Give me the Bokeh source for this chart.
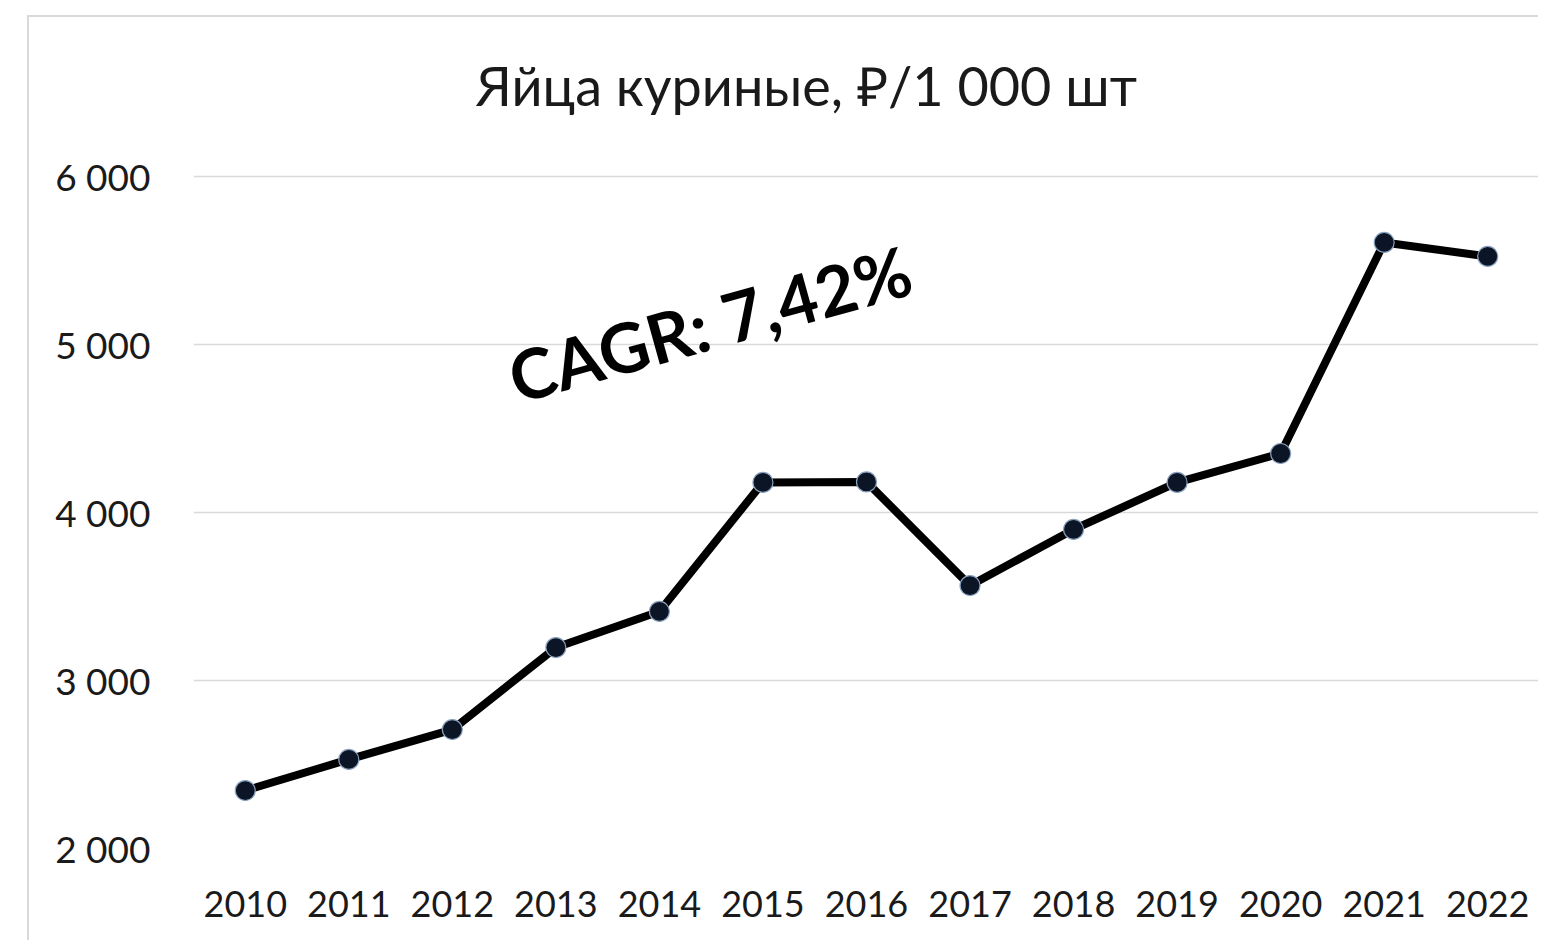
from bokeh.plotting import figure
from bokeh.models import Range1d, FixedTicker, Label
from bokeh.embed import file_html
from bokeh.resources import INLINE

# ---- data ----
years = [2010, 2011, 2012, 2013, 2014, 2015, 2016, 2017, 2018, 2019, 2020, 2021, 2022]
prices = [2345, 2530, 2708, 3196, 3411, 4179, 4182, 3565, 3899, 4179, 4351, 5607, 5524]
y_ticks = [2000, 3000, 4000, 5000, 6000]
y_tick_labels = ["2 000", "3 000", "4 000", "5 000", "6 000"]
title_text = "Яйца куриные, ₽/1 000 шт"
cagr_text = "CAGR: 7,42%"

FONT = "Lato"

p = figure(width=1511, height=925, output_backend="svg", toolbar_location=None,
           x_range=Range1d(2009.5, 2022.5), y_range=Range1d(2000, 6946),
           min_border_left=164, min_border_right=1, min_border_top=0, min_border_bottom=94)
p.margin = (15, 0, 0, 27)
p.styles = {"border-left": "2px solid #d9d9d9", "border-top": "2px solid #d9d9d9"}

p.background_fill_color = "white"
p.border_fill_color = "white"
p.outline_line_color = None

# axes
p.xaxis.ticker = FixedTicker(ticks=years)
p.yaxis.ticker = FixedTicker(ticks=y_ticks)
p.yaxis.major_label_overrides = {t: l for t, l in zip(y_ticks, y_tick_labels)}
for ax in (p.xaxis[0], p.yaxis[0]):
    ax.axis_line_color = None
    ax.major_tick_line_color = None
    ax.minor_tick_line_color = None
    ax.major_label_text_font = FONT
    ax.major_label_text_font_size = "37px"
    ax.major_label_text_color = "#1a1a1a"
p.xaxis.major_label_text_font_size = "36px"
p.xaxis.major_label_standoff = 36
p.yaxis.major_label_standoff = 37

p.xgrid.grid_line_color = None
p.ygrid.grid_line_color = "#d9d9d9"
p.ygrid.grid_line_width = 1.5

# series
p.line(years, prices, line_color="black", line_width=8, line_join="round")
p.scatter(years, prices, size=20, fill_color="#0c1526", line_color="#8aa2bf", line_width=1.2)

# title
p.add_layout(Label(x=2015.42, y=6542, text=title_text, text_align="center",
                   text_baseline="middle", text_font=FONT, text_font_size="54px",
                   text_color="#1a1a1a"))

# CAGR annotation
p.add_layout(Label(x=2012.56, y=4798, text=cagr_text, angle=15.5, angle_units="deg",
                   text_align="left", text_baseline="alphabetic", text_font=FONT,
                   text_font_style="bold", text_font_size="69px", text_color="black"))

open("out.html", "w").write(file_html(p, INLINE))
